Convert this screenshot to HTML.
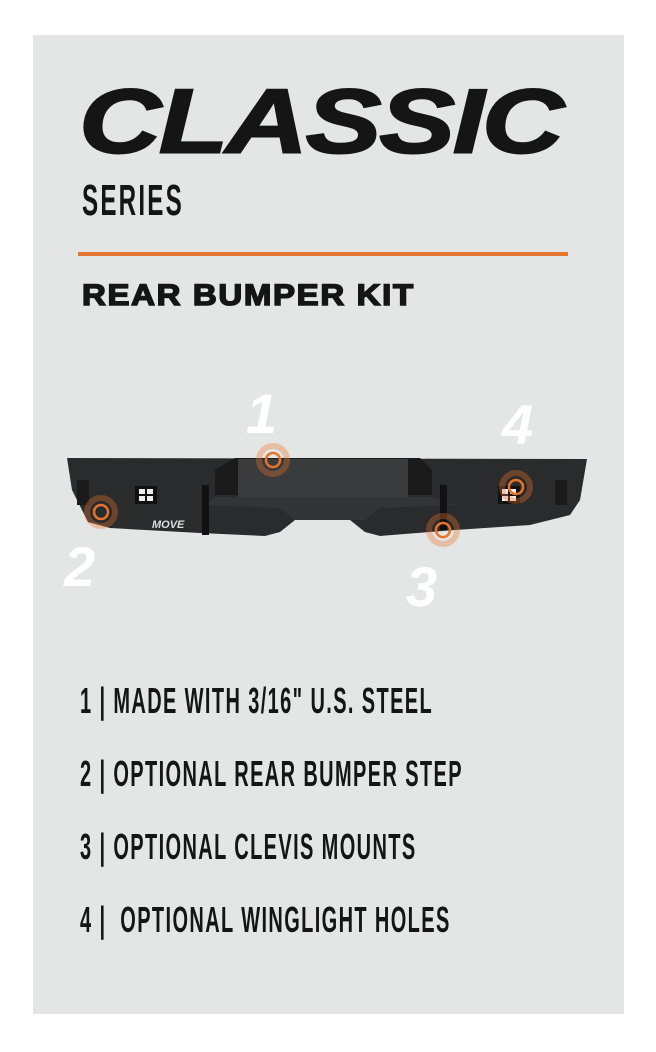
<!DOCTYPE html>
<html><head><style>
body{margin:0;width:656px;height:1052px;background:#fff;position:relative;overflow:hidden;font-family:"Liberation Sans",sans-serif}
.panel{position:absolute;left:33px;top:35px;width:591px;height:979px;background:#e4e6e5}
.t{position:absolute;white-space:nowrap;color:#141514}
.classic{left:79px;top:70px;font-size:96px;font-weight:bold;font-style:italic;transform-origin:0 0;transform:scale(1.185,0.95);letter-spacing:-2px;-webkit-text-stroke:2px #141514}
.series{left:82px;top:176px;font-size:44px;font-weight:bold;transform-origin:0 0;transform:scaleX(0.55);letter-spacing:4px}
.line{position:absolute;left:78px;top:252px;width:490px;height:4px;background:#e4772f}
.kit{left:82px;top:279px;font-size:30px;font-weight:bold;letter-spacing:1.5px;-webkit-text-stroke:1.5px #141514;transform-origin:0 0;transform:scaleX(1.1)}
.li{left:80px;font-size:36px;font-weight:bold;transform-origin:0 0;transform:scaleX(0.555);letter-spacing:2.5px}
</style></head><body>
<div class="panel"></div>
<div class="t classic">CLASSIC</div>
<div class="t series">SERIES</div>
<div class="line"></div>
<div class="t kit">REAR BUMPER KIT</div>
<svg style="position:absolute;left:0;top:0" width="656" height="1052">
<g font-family="Liberation Sans" font-weight="bold" font-style="italic" fill="#fff" font-size="56">
<text x="246" y="433">1</text><text x="502" y="444">4</text><text x="64" y="586">2</text><text x="406" y="606">3</text></g>
<path d="M67,458 L587,459 L580,500 L570,515 L530,525 L455,530 L380,536 L365,532 L350,520 L295,520 L280,532 L265,536 L200,533 L110,528 L88,522 L72,490 Z" fill="#2a2b2c"/>
<path d="M215,470 L235,458 L420,458 L432,470 L432,495 L215,495 Z" fill="#1a1a1b"/>
<rect x="238" y="459" width="170" height="38" fill="#3a3b3c"/>
<path d="M215,497 L432,497 L455,505 L380,508 L365,520 L295,520 L280,508 L205,505 Z" fill="#333435"/>
<rect x="135" y="486" width="22" height="18" fill="#111"/>
<g fill="#eee"><rect x="139" y="489" width="6" height="5"/><rect x="147" y="489" width="6" height="5"/><rect x="139" y="496" width="6" height="5"/><rect x="147" y="496" width="6" height="5"/></g>
<rect x="498" y="486" width="22" height="18" fill="#111"/>
<g fill="#eee"><rect x="502" y="489" width="6" height="5"/><rect x="510" y="489" width="6" height="5"/><rect x="502" y="496" width="6" height="5"/><rect x="510" y="496" width="6" height="5"/></g>
<rect x="77" y="480" width="12" height="25" fill="#1a1a1a"/><rect x="555" y="480" width="12" height="25" fill="#1a1a1a"/>
<rect x="202" y="485" width="7" height="50" fill="#111"/><rect x="440" y="485" width="7" height="45" fill="#111"/>
<text x="152" y="528" font-size="11" font-weight="bold" font-style="italic" fill="#ddd" font-family="Liberation Sans">MOVE</text>
<g fill="none" stroke="#e8742a">
<g stroke-width="6" opacity="0.35"><circle cx="273" cy="460" r="14"/><circle cx="101" cy="512" r="14"/><circle cx="443" cy="530" r="14"/><circle cx="516" cy="487" r="14"/></g>
<g stroke-width="2.5"><circle cx="273" cy="460" r="7"/><circle cx="101" cy="512" r="7"/><circle cx="443" cy="530" r="7"/><circle cx="516" cy="487" r="7"/></g></g>
</svg>
<div class="t li" style="top:680px">1 | MADE WITH 3/16" U.S. STEEL</div>
<div class="t li" style="top:753px">2 | OPTIONAL REAR BUMPER STEP</div>
<div class="t li" style="top:826px">3 | OPTIONAL CLEVIS MOUNTS</div>
<div class="t li" style="top:899px">4 |&nbsp; OPTIONAL WINGLIGHT HOLES</div>
</body></html>
